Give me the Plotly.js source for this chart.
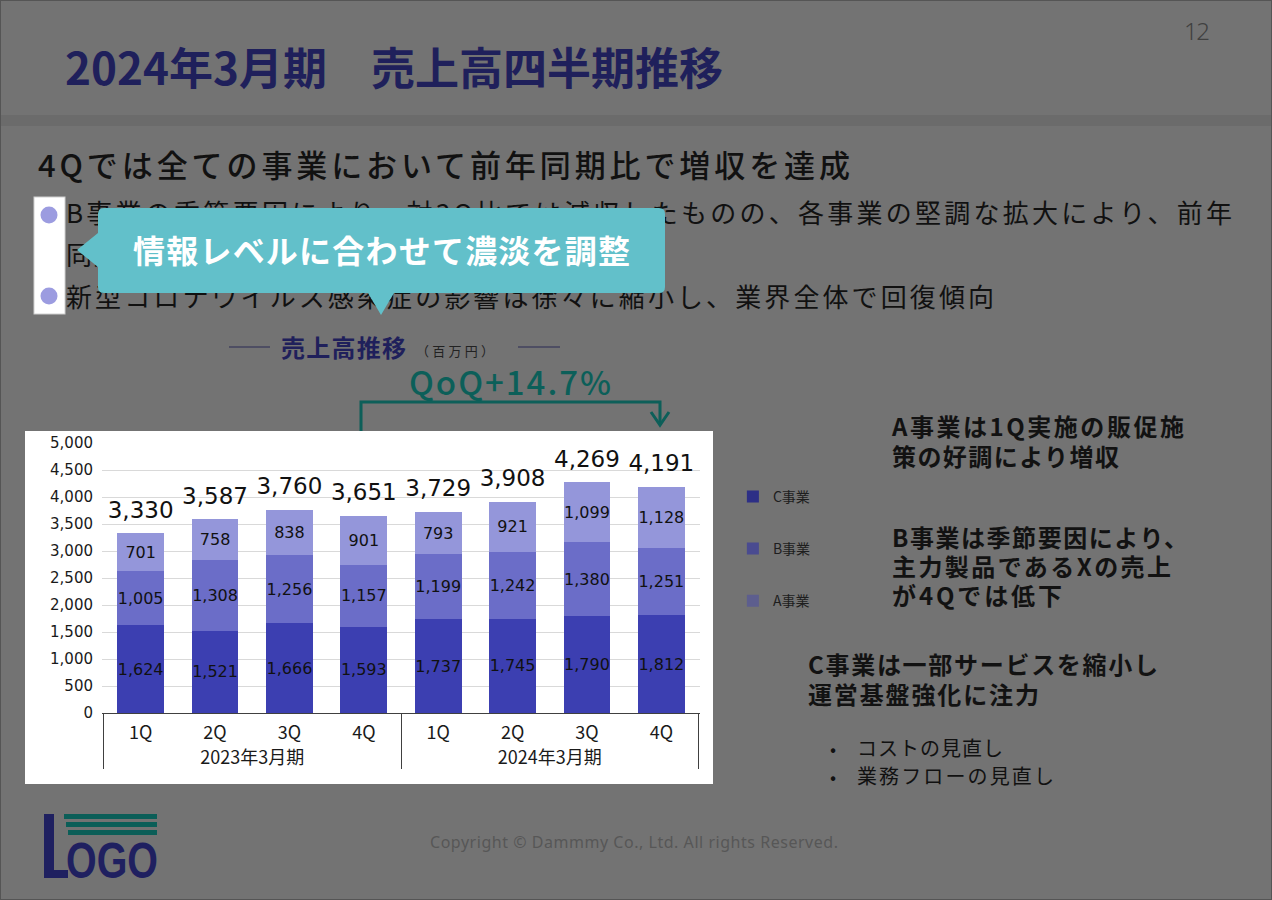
<!DOCTYPE html>
<html><head><meta charset="utf-8">
<script src="https://cdn.plot.ly/plotly-3.0.1.min.js"></script>
<style>
html,body{margin:0;padding:0;background:#737373;}
#slide{position:relative;width:1272px;height:900px;background:#737373;overflow:hidden;font-family:"Noto Sans CJK JP","Noto Sans",sans-serif;box-shadow:inset 0 0 0 1px #555;}
.t{position:absolute;white-space:nowrap;line-height:1;}
</style></head>
<body>
<div id="slide">
  <div style="position:absolute;left:1px;top:115px;width:1270px;height:11px;background:#6b6b6b"></div>
  <div style="position:absolute;left:25px;top:431px;width:688px;height:353px;background:#ffffff"></div>
  <div id="chart" style="position:absolute;left:0;top:0;width:1272px;height:900px"></div>
  <div id="textLayer"></div>
  <svg width="1272" height="900" style="position:absolute;left:0;top:0">
    <rect x="34" y="197" width="31" height="117" fill="#ffffff" stroke="#d0d0d0" stroke-width="1"/>
    <circle cx="49" cy="215" r="8.5" fill="#9c9ce0"/>
    <circle cx="49" cy="296" r="8.5" fill="#9c9ce0"/>
    <path d="M104,208 H659 Q665,208 665,214 V287 Q665,293 659,293 H394 L381,315 L368,293 H104 Q98,293 98,287 V267 L77,250 L98,233 V214 Q98,208 104,208 Z" fill="#62c0ca"/>
    <line x1="229" y1="347" x2="270" y2="347" stroke="#2b2b55" stroke-width="1.2"/>
    <line x1="518" y1="347" x2="560" y2="347" stroke="#2b2b55" stroke-width="1.2"/>
    <polyline points="361,431 361,402 660,402 660,424" fill="none" stroke="#0d5f59" stroke-width="3"/>
    <polyline points="651,412 660,425 669,412" fill="none" stroke="#0d5f59" stroke-width="3"/>
    <rect x="44" y="814" width="10" height="64" fill="#1f2060"/>
    <rect x="44" y="870" width="24" height="8" fill="#1f2060"/>
    <rect x="64" y="814" width="93" height="5" fill="#0b5e58"/>
    <rect x="66" y="822" width="91" height="5" fill="#0b5e58"/>
    <rect x="68" y="830" width="89" height="5" fill="#0b5e58"/>
    <text x="66" y="878" font-size="50" font-weight="700" font-family="Liberation Sans" textLength="92" lengthAdjust="spacingAndGlyphs" fill="#1f2060">OGO</text>
  </svg>
  <div id="topLayer"></div>
</div>
<script>
// ---- data ----
const quarters = ['1Q','2Q','3Q','4Q','1Q','2Q','3Q','4Q'];
const fiscalYears = ['2023年3月期','2023年3月期','2023年3月期','2023年3月期','2024年3月期','2024年3月期','2024年3月期','2024年3月期'];
const salesC = [1624, 1521, 1666, 1593, 1737, 1745, 1790, 1812];
const salesB = [1005, 1308, 1256, 1157, 1199, 1242, 1380, 1251];
const salesA = [701, 758, 838, 901, 793, 921, 1099, 1128];
const seriesNames = ['C事業', 'B事業', 'A事業'];
const totals = salesC.map((v, i) => v + salesB[i] + salesA[i]);

const barColors = ['#3c3fb1', '#6b6dc8', '#9496da'];
const legendColors = ['#2d2f86', '#4a4b90', '#5d5e8e'];
const xCats = [fiscalYears, quarters];
const seriesValues = [salesC, salesB, salesA];

const traces = [];
seriesValues.forEach((vals, i) => {
  traces.push({
    type: 'bar', x: xCats, y: vals, name: seriesNames[i], showlegend: false,
    marker: {color: barColors[i]},
    texttemplate: '%{y:,d}', textposition: 'inside', insidetextanchor: 'middle',
    textangle: 0, constraintext: 'none',
    textfont: {size: 16, color: '#111111', family: 'DejaVu Sans'},
    hoverinfo: 'skip'
  });
});
traces.push({
  type: 'scatter', mode: 'markers+text', x: xCats, y: totals, showlegend: false,
  marker: {size: 14, color: 'rgba(0,0,0,0)'},
  texttemplate: '%{y:,d}', textposition: 'top center', cliponaxis: false,
  textfont: {size: 23, color: '#111111', family: 'DejaVu Sans'}, hoverinfo: 'skip'
});
// legend entries (zero-height, legend swatches only)
seriesNames.forEach((nm, i) => {
  traces.push({type: 'bar', x: [[fiscalYears[0]], [quarters[0]]], y: [0], name: nm, legendgroup: 'g' + i,
    marker: {color: legendColors[i]}, showlegend: true, hoverinfo: 'skip'});
});

const layout = {
  width: 1272, height: 900,
  margin: {l: 102, r: 572, t: 443, b: 187, pad: 0},
  paper_bgcolor: 'rgba(0,0,0,0)', plot_bgcolor: 'rgba(0,0,0,0)',
  font: {family: 'DejaVu Sans, Noto Sans CJK JP', size: 15, color: '#1a1a1a'},
  barmode: 'stack', bargap: 0.37,
  showlegend: true,
  legend: {x: 1.055, xanchor: 'left', y: 0.86, yanchor: 'top', traceorder: 'grouped',
    tracegroupgap: 31, bgcolor: 'rgba(0,0,0,0)',
    font: {size: 14, color: '#1e1e1e', family: 'Noto Sans CJK JP'}},
  xaxis: {type: 'multicategory', showline: true, linecolor: '#404040', linewidth: 1,
    showdividers: true, dividercolor: '#404040', dividerwidth: 1, ticks: '',
    tickfont: {size: 18, family: 'Noto Sans CJK JP'}, ticklabelstandoff: 3, showgrid: false, zeroline: false},
  yaxis: {range: [0, 5000], dtick: 500, tick0: 0, tickformat: ',d', showgrid: true,
    gridcolor: '#d9d9d9', gridwidth: 1, zeroline: false, showline: false, ticks: '',
    tickfont: {size: 15}, ticklabelstandoff: 8},
  hovermode: false
};
Plotly.newPlot('chart', traces, layout, {staticPlot: true, displayModeBar: false});

// ---- slide text ----
const texts = [
  {t: '2024年3月期　売上高四半期推移', l: 65, r: 723, cy: 68, s: 44, w: 700, c: '#1f205b'},
  {t: '12', l: 1184, r: 1210, cy: 32, s: 24, w: 300, c: '#404040', f: 'Noto Sans'},
  {t: '4Qでは全ての事業において前年同期比で増収を達成', l: 38, r: 850, cy: 165, s: 31, w: 500, c: '#111111'},
  {t: 'B事業の季節要因により、対3Q比では減収したものの、各事業の堅調な拡大により、前年', l: 66, r: 1232, cy: 213, s: 26, w: 400, c: '#111111'},
  {t: '同期比で増収', l: 66, cy: 255, s: 26, w: 400, c: '#111111', ls: 1.5},
  {t: '新型コロナウイルス感染症の影響は徐々に縮小し、業界全体で回復傾向', l: 66, r: 994, cy: 297, s: 26, w: 400, c: '#111111'},
  {t: '売上高推移', l: 281, r: 406, cy: 348, s: 24, w: 700, c: '#1f205b'},
  {t: '（百万円）', l: 416, r: 494, cy: 351, s: 13, w: 400, c: '#222222'},
  {t: 'QoQ+14.7%', l: 409, r: 611, cy: 383, s: 33, w: 500, c: '#0c5f59'},
  {t: 'A事業は1Q実施の販促施', l: 892, r: 1184, cy: 427, s: 24, w: 700, c: '#121212'},
  {t: '策の好調により増収', l: 892, r: 1119, cy: 457, s: 24, w: 700, c: '#121212'},
  {t: 'B事業は季節要因により、', l: 892, r: 1188, cy: 538, s: 24, w: 700, c: '#121212'},
  {t: '主力製品であるXの売上', l: 892, r: 1171, cy: 567, s: 24, w: 700, c: '#121212'},
  {t: 'が4Qでは低下', l: 892, r: 1062, cy: 596, s: 24, w: 700, c: '#121212'},
  {t: 'C事業は一部サービスを縮小し', l: 808, r: 1158, cy: 665, s: 24, w: 700, c: '#121212'},
  {t: '運営基盤強化に注力', l: 808, r: 1039, cy: 695, s: 24, w: 700, c: '#121212'},
  {t: '•', l: 830, cy: 749, s: 18, w: 400, c: '#111111'},
  {t: '•', l: 830, cy: 777, s: 18, w: 400, c: '#111111'},
  {t: 'コストの見直し', l: 857, r: 1003, cy: 749, s: 20, w: 400, c: '#111111'},
  {t: '業務フローの見直し', l: 857, r: 1054, cy: 777, s: 20, w: 400, c: '#111111'},
  {t: 'Copyright © Dammmy Co., Ltd. All rights Reserved.', l: 430, r: 838, cy: 843, s: 16, w: 400, c: '#575757', f: 'Noto Sans'},
  {t: '情報レベルに合わせて濃淡を調整', l: 133, r: 630, cy: 251, s: 32, w: 700, c: '#ffffff', top: true}
];
function place() {
  const low = document.getElementById('textLayer');
  const high = document.getElementById('topLayer');
  texts.forEach(o => {
    const d = document.createElement('div');
    d.className = 't';
    d.textContent = o.t;
    d.style.fontSize = o.s + 'px';
    d.style.fontWeight = o.w;
    d.style.color = o.c;
    if (o.f) d.style.fontFamily = o.f;
    d.style.left = o.l + 'px';
    d.style.top = (o.cy - 0.556 * o.s) + 'px';
    (o.top ? high : low).appendChild(d);
    if (o.r) {
      const w = d.getBoundingClientRect().width;
      const n = [...o.t].length;
      d.style.letterSpacing = ((o.r - o.l - w) / (n - 1)) + 'px';
    } else if (o.ls) {
      d.style.letterSpacing = o.ls + 'px';
    }
  });
}
if (document.fonts && document.fonts.ready) { document.fonts.ready.then(place); } else { place(); }
</script>
</body></html>
